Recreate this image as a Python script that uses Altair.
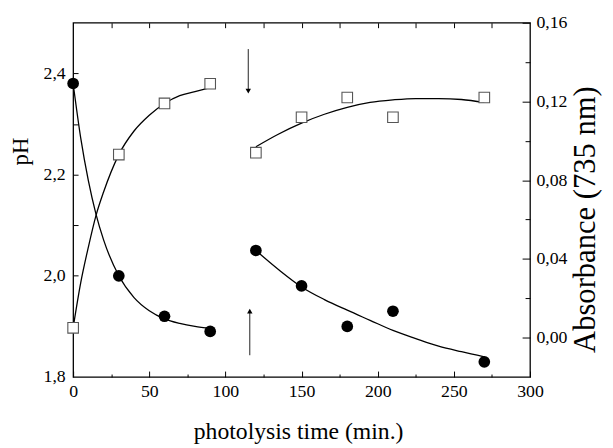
import altair as alt
import pandas as pd

TIME = [0, 30, 60, 90, 120, 150, 180, 210, 270]
PH = [2.38, 2.00, 1.92, 1.89, 2.05, 1.98, 1.90, 1.93, 1.83]
ABSORB = [0.005, 0.093, 0.119, 0.129, 0.094, 0.112, 0.122, 0.112, 0.122]

# fitted curves
FIT1_T = [0, 5, 10, 15, 20, 30, 40, 50, 60, 70, 80, 90]
FIT1_PH = [2.380, 2.272, 2.188, 2.122, 2.071, 2.000, 1.957, 1.931, 1.915, 1.906, 1.900, 1.896]
FIT1_ABS = [0.005, 0.028, 0.046, 0.062, 0.074, 0.093, 0.105, 0.113, 0.119, 0.123, 0.125, 0.127]
FIT2_T = [120, 135, 150, 165, 180, 195, 210, 225, 240, 255, 270]
FIT2_PH = [2.050, 2.012, 1.978, 1.953, 1.932, 1.912, 1.892, 1.876, 1.861, 1.850, 1.840]
FIT2_ABS = [0.097, 0.1035, 0.109, 0.1135, 0.117, 0.1195, 0.1208, 0.1215, 0.1215, 0.121, 0.1195]

# arrows (in pH units)
ARROW_T = [115, 116]
ARROW_FROM = [2.448, 1.843]
ARROW_TO = [2.365, 1.930]
ARROW_HEAD = ["triangle-down", "triangle-up"]

# axis ticks / labels
X_LABELS = [0, 50, 100, 150, 200, 250, 300]
X_MINOR = [25, 75, 125, 175, 225, 275]
X_TOP = [25, 50, 75, 100, 125, 150, 175, 200, 225, 250, 275]
PH_LABELS = [1.8, 2.0, 2.2, 2.4]
PH_TICKS = [1.9, 2.0, 2.1, 2.2, 2.3, 2.4]
ABS_LABELS = [0.00, 0.04, 0.08, 0.12, 0.16]
ABS_MINOR = [0.02, 0.06, 0.10, 0.14]

FONT = "'Liberation Serif', 'Times New Roman', Times, serif"

df = pd.DataFrame({"t": TIME, "ph": PH, "abs": ABSORB})
fit_df = pd.DataFrame({
    "t": FIT1_T + FIT2_T,
    "ph": FIT1_PH + FIT2_PH,
    "abs": FIT1_ABS + FIT2_ABS,
    "seg": ["a"] * len(FIT1_T) + ["b"] * len(FIT2_T),
})
arrow_df = pd.DataFrame({"t": ARROW_T, "y0": ARROW_FROM, "y1": ARROW_TO, "head": ARROW_HEAD})

xs = alt.Scale(domain=[0, 300], nice=False, zero=False)
ph_s = alt.Scale(domain=[1.8, 2.5], nice=False, zero=False)
abs_s = alt.Scale(domain=[-0.02, 0.16], nice=False, zero=False)


def tick_axis(orient, values, size):
    return alt.Axis(orient=orient, values=values, ticks=True, tickSize=size,
                    offset=-size, labels=False, domain=False, grid=False,
                    title=None, tickColor="black", tickWidth=1)


x_label_axis = alt.Axis(orient="bottom", values=X_LABELS, ticks=False, tickSize=0,
                        domain=False, grid=False, labelPadding=6, labelFlush=False,
                        labelOverlap=False, title="photolysis time (min.)",
                        titleX=228, titleY=62, titleBaseline="alphabetic",
                        titleFontSize=24, labelFont=FONT, titleFont=FONT)
ph_label_axis = alt.Axis(orient="left", values=PH_LABELS, ticks=False, tickSize=0,
                         domain=False, grid=False, labelPadding=8, labelFlush=False,
                         labelOverlap=False,
                         labelExpr="replace(format(datum.value, '.1f'), '.', ',')",
                         title="pH", titleX=-46, titleY=130, titleAngle=270,
                         titleBaseline="alphabetic", titleFontSize=23,
                         labelFont=FONT, titleFont=FONT)
abs_label_axis = alt.Axis(orient="right", values=ABS_LABELS, ticks=False, tickSize=0,
                          domain=False, grid=False, labelPadding=6, labelFlush=False,
                          labelOverlap=False,
                          labelExpr="replace(format(datum.value, '.2f'), '.', ',')",
                          title="Absorbance (735 nm)", titleX=65, titleY=199,
                          titleAngle=270, titleBaseline="alphabetic", titleFontSize=31,
                          labelFont=FONT, titleFont=FONT)

tick1 = alt.Chart(df).mark_point(opacity=0).encode(
    x=alt.X("t:Q", scale=xs, axis=tick_axis("bottom", X_LABELS, 6)),
    y=alt.Y("ph:Q", scale=ph_s, axis=tick_axis("left", PH_TICKS, 5)),
)
tick2 = alt.Chart(df).mark_point(opacity=0).encode(
    x=alt.X("t:Q", scale=xs, axis=tick_axis("bottom", X_MINOR, 3)),
    y=alt.Y("abs:Q", scale=abs_s, axis=tick_axis("right", ABS_LABELS, 8)),
)
tick3 = alt.Chart(df).mark_point(opacity=0).encode(
    x=alt.X("t:Q", scale=xs, axis=tick_axis("top", X_TOP, 5)),
    y=alt.Y("abs:Q", scale=abs_s, axis=tick_axis("right", ABS_MINOR, 5)),
)

ph_line = alt.Chart(fit_df).mark_line(color="black", strokeWidth=1.3, interpolate="monotone").encode(
    x=alt.X("t:Q", scale=xs, axis=None),
    y=alt.Y("ph:Q", scale=ph_s, axis=None),
    detail="seg:N",
)
abs_line = alt.Chart(fit_df).mark_line(color="black", strokeWidth=1.3, interpolate="monotone").encode(
    x=alt.X("t:Q", scale=xs, axis=None),
    y=alt.Y("abs:Q", scale=abs_s, axis=None),
    detail="seg:N",
)

arrow_rule = alt.Chart(arrow_df).mark_rule(color="#222222", strokeWidth=1).encode(
    x=alt.X("t:Q", scale=xs, axis=None),
    y=alt.Y("y0:Q", scale=ph_s, axis=None),
    y2="y1:Q",
)
arrow_head = alt.Chart(arrow_df).mark_point(filled=True, color="black", size=30, opacity=1).encode(
    x=alt.X("t:Q", scale=xs, axis=None),
    y=alt.Y("y1:Q", scale=ph_s, axis=None),
    shape=alt.Shape("head:N", scale=None),
)

squares = alt.Chart(df).mark_point(shape="square", filled=True, fill="white", stroke="#555555",
                                   strokeWidth=1.1, size=115, opacity=1).encode(
    x=alt.X("t:Q", scale=xs, axis=None),
    y=alt.Y("abs:Q", scale=abs_s, axis=abs_label_axis),
)
circles = alt.Chart(df).mark_point(shape="circle", filled=True, color="black", size=140, opacity=1).encode(
    x=alt.X("t:Q", scale=xs, axis=x_label_axis),
    y=alt.Y("ph:Q", scale=ph_s, axis=ph_label_axis),
)

chart = alt.layer(
    tick1, tick2, tick3, ph_line, abs_line, arrow_rule, arrow_head, squares, circles
).resolve_scale(y="independent").resolve_axis(x="independent", y="independent").properties(
    width=463, height=359,
    padding={"left": 66, "top": 12, "right": 76, "bottom": 69},
    autosize=alt.AutoSizeParams(type="none"),
).configure_view(
    stroke="black", strokeWidth=1.3
).configure_axis(
    labelFont=FONT, labelFontSize=18, labelColor="black",
    titleFont=FONT, titleFontSize=24, titleFontWeight="normal", titleColor="black",
)

chart.save("out.html", embed_options={"renderer": "svg", "actions": False})
